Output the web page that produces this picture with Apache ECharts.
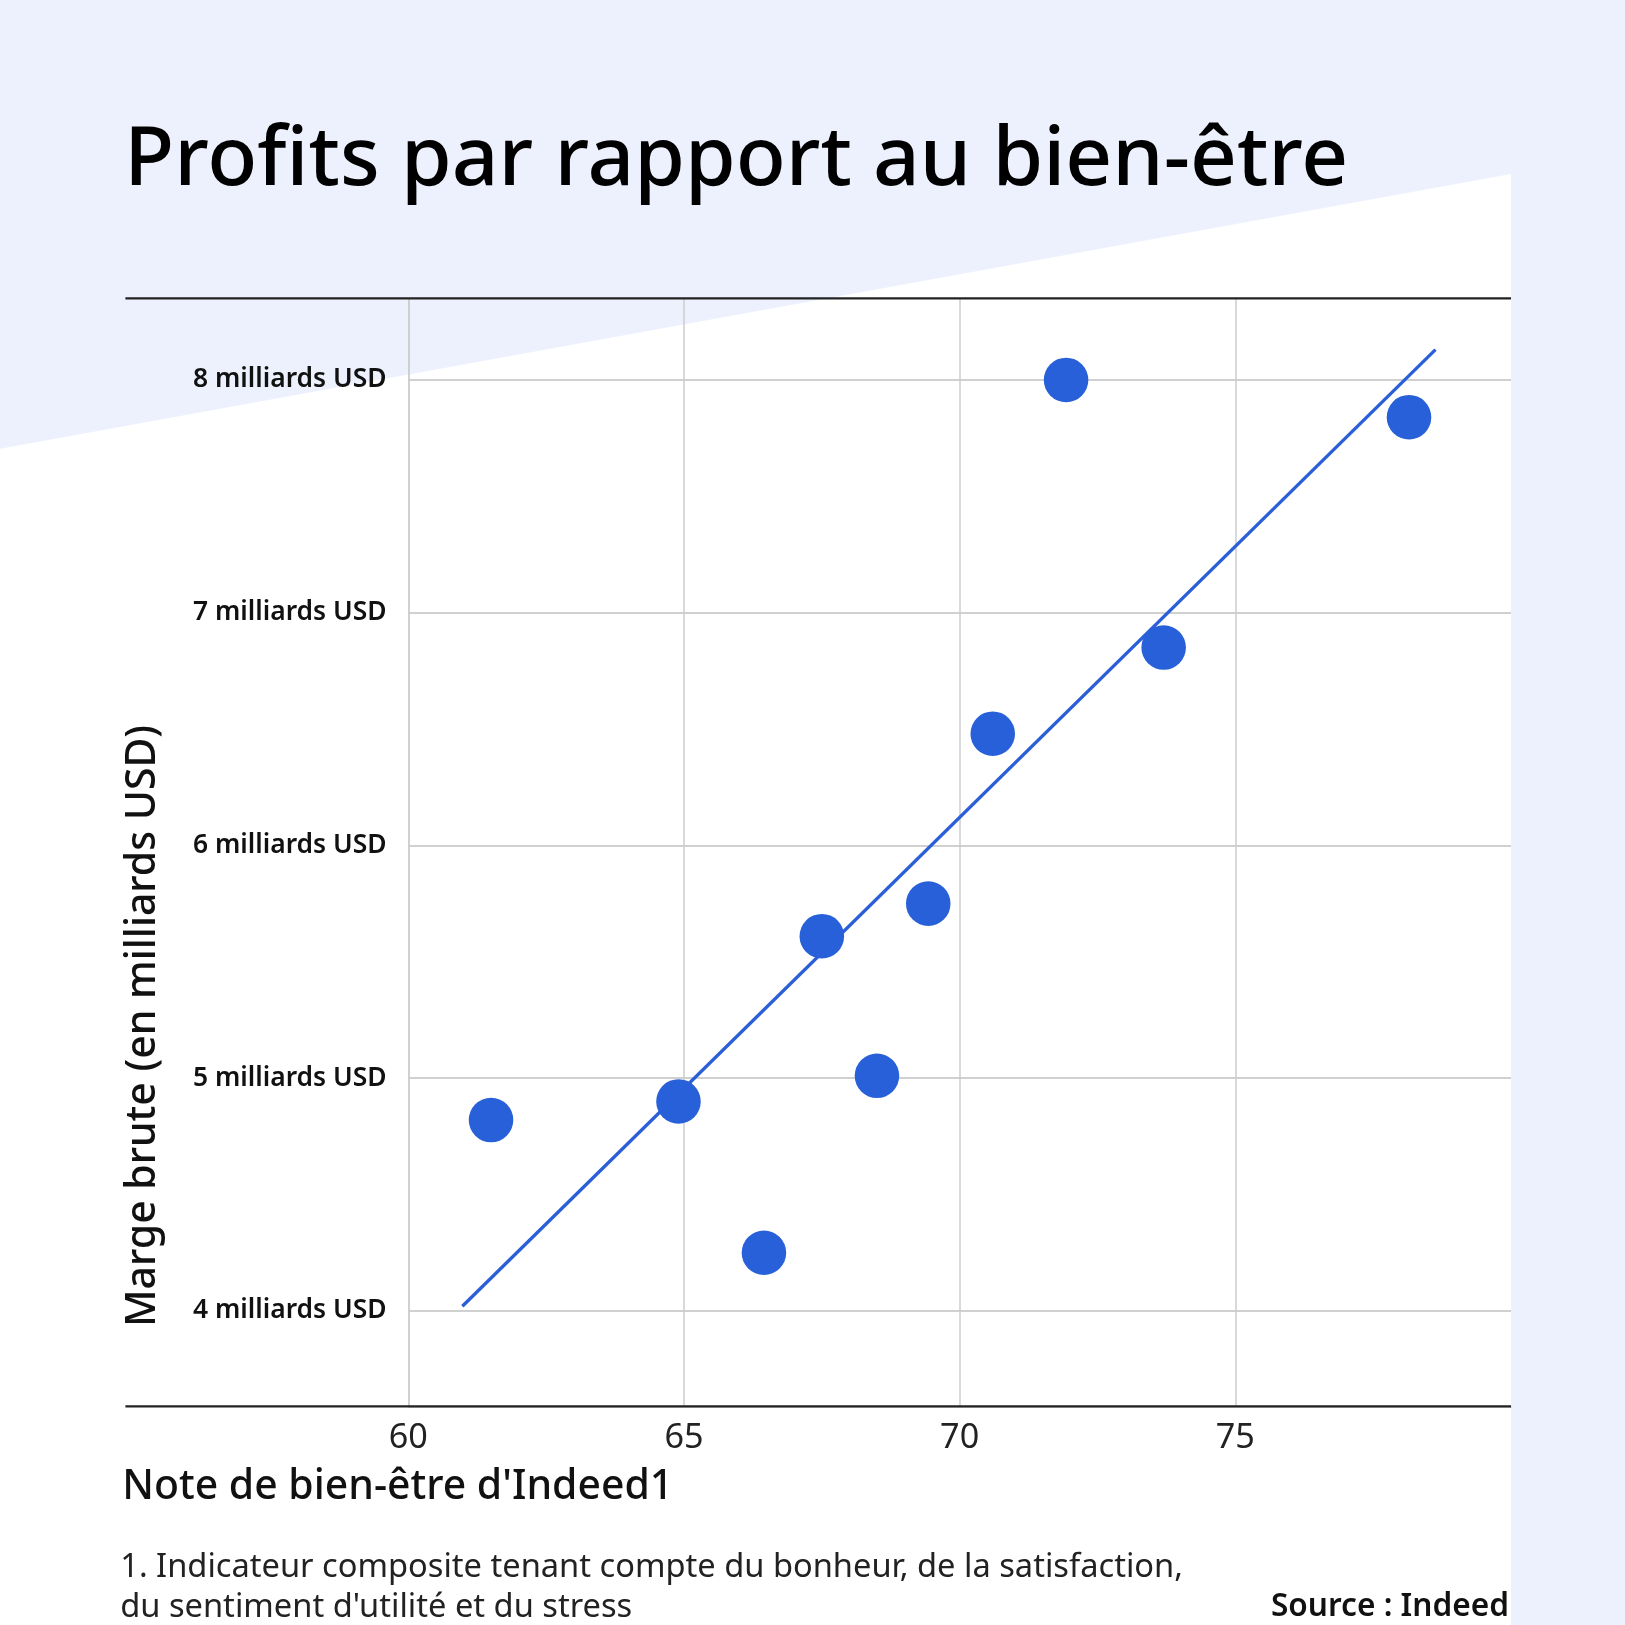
<!DOCTYPE html>
<html>
<head>
<meta charset="utf-8">
<script src="https://cdn.jsdelivr.net/npm/echarts@6/dist/echarts.min.js"></script>
<style>
html,body{margin:0;padding:0;background:#EDF1FD;}
#c{width:1625px;height:1625px;}
</style>
</head>
<body>
<div id="c"></div>
<script>
// ---- data ----
const wellbeingScore = [61.5, 64.9, 66.45, 67.5, 68.5, 69.43, 70.6, 71.93, 73.7, 78.15];
const grossMargin = [4.82, 4.90, 4.25, 5.61, 5.01, 5.75, 6.48, 8.0, 6.85, 7.84];
const trendX = [60.98, 78.63];
const trendY = [4.02, 8.13];
const xTicks = [60, 65, 70, 75];
const yTicks = [4, 5, 6, 7, 8];
const yTickLabel = v => v + ' milliards USD';
const titleText = 'Profits par rapport au bien-être';
const xName = "Note de bien-être d'Indeed1";
const yName = 'Marge brute (en milliards USD)';
const note1 = '1. Indicateur composite tenant compte du bonheur, de la satisfaction,';
const note2 = "du sentiment d'utilité et du stress";
const sourceText = 'Source : Indeed';

// ---- layout ----
const S = 1625 / 1568;
const F = '"Noto Sans", sans-serif';
const chart = echarts.init(document.getElementById('c'));
const scatterData = wellbeingScore.map((x, i) => [x, grossMargin[i]]);
const trendData = trendX.map((x, i) => [x, trendY[i]]);

chart.setOption({
  backgroundColor: '#EDF1FD',
  animation: false,
  grid: { left: 394 * S, right: (1568 - 1458) * S, top: 288 * S, bottom: (1568 - 1357) * S },
  xAxis: {
    type: 'value', min: 60, max: 80,
    axisLine: { show: true, lineStyle: { color: '#cccccc', width: 1.5 } },
    axisTick: { show: false, customValues: xTicks },
    axisLabel: { customValues: xTicks, margin: 14 * S, fontFamily: F, fontSize: 33 * S, color: '#222222' },
    splitLine: { show: true, lineStyle: { color: '#cccccc', width: 1.5 } }
  },
  yAxis: {
    type: 'value', min: 3.59, max: 8.35,
    axisLine: { show: true, lineStyle: { color: '#cccccc', width: 1.5 } },
    axisTick: { show: false, customValues: yTicks },
    axisLabel: { customValues: yTicks, formatter: yTickLabel, margin: 21 * S, fontFamily: F, fontSize: 25.5 * S, fontWeight: 600, color: '#111111', padding: [4 * S, 0, 0, 0] },
    splitLine: { show: true, lineStyle: { color: '#d0d0d0', width: 2 } }
  },
  series: [
    {
      type: 'line', data: trendData, showSymbol: false, symbol: 'none',
      lineStyle: { color: '#2A5FD8', width: 3.2 * S }, z: 3, silent: true
    },
    {
      type: 'scatter', data: scatterData, symbolSize: 43 * S,
      itemStyle: { color: '#2760D8', opacity: 1 }, z: 4
    }
  ],
  graphic: [
    { type: 'polygon', z: -10, silent: true,
      shape: { points: [[0, 433 * S], [1458 * S, 168 * S], [1458 * S, 1625], [0, 1625]] },
      style: { fill: '#ffffff' } },
    { type: 'line', z: 10, shape: { x1: 121 * S, y1: 288 * S, x2: 1458 * S, y2: 288 * S },
      style: { stroke: '#222222', lineWidth: 2.2 } },
    { type: 'line', z: 10, shape: { x1: 121 * S, y1: 1357 * S, x2: 1458 * S, y2: 1357 * S },
      style: { stroke: '#222222', lineWidth: 2.2 } },
    { type: 'text', z: 10, left: 120 * S, top: 116 * S,
      style: { text: titleText, font: '500 ' + (79 * S) + 'px ' + F, fill: '#000000' } },
    { type: 'text', z: 10, x: 138 * S, y: 990 * S, rotation: Math.PI / 2,
      style: { text: yName, font: '500 ' + (39.5 * S) + 'px ' + F, fill: '#111111', align: 'center', verticalAlign: 'middle' } },
    { type: 'text', z: 10, left: 118 * S, top: 1415 * S,
      style: { text: xName, font: '500 ' + (39.5 * S) + 'px ' + F, fill: '#111111' } },
    { type: 'text', z: 10, left: 116 * S, top: 1497 * S,
      style: { text: note1, font: '400 ' + (31.5 * S) + 'px ' + F, fill: '#222222' } },
    { type: 'text', z: 10, left: 116 * S, top: 1535 * S,
      style: { text: note2, font: '400 ' + (31.5 * S) + 'px ' + F, fill: '#222222' } },
    { type: 'text', z: 10, right: (1568 - 1456) * S, top: 1535 * S,
      style: { text: sourceText, font: '600 ' + (30.5 * S) + 'px ' + F, fill: '#111111' } }
  ]
});
</script>
</body>
</html>
